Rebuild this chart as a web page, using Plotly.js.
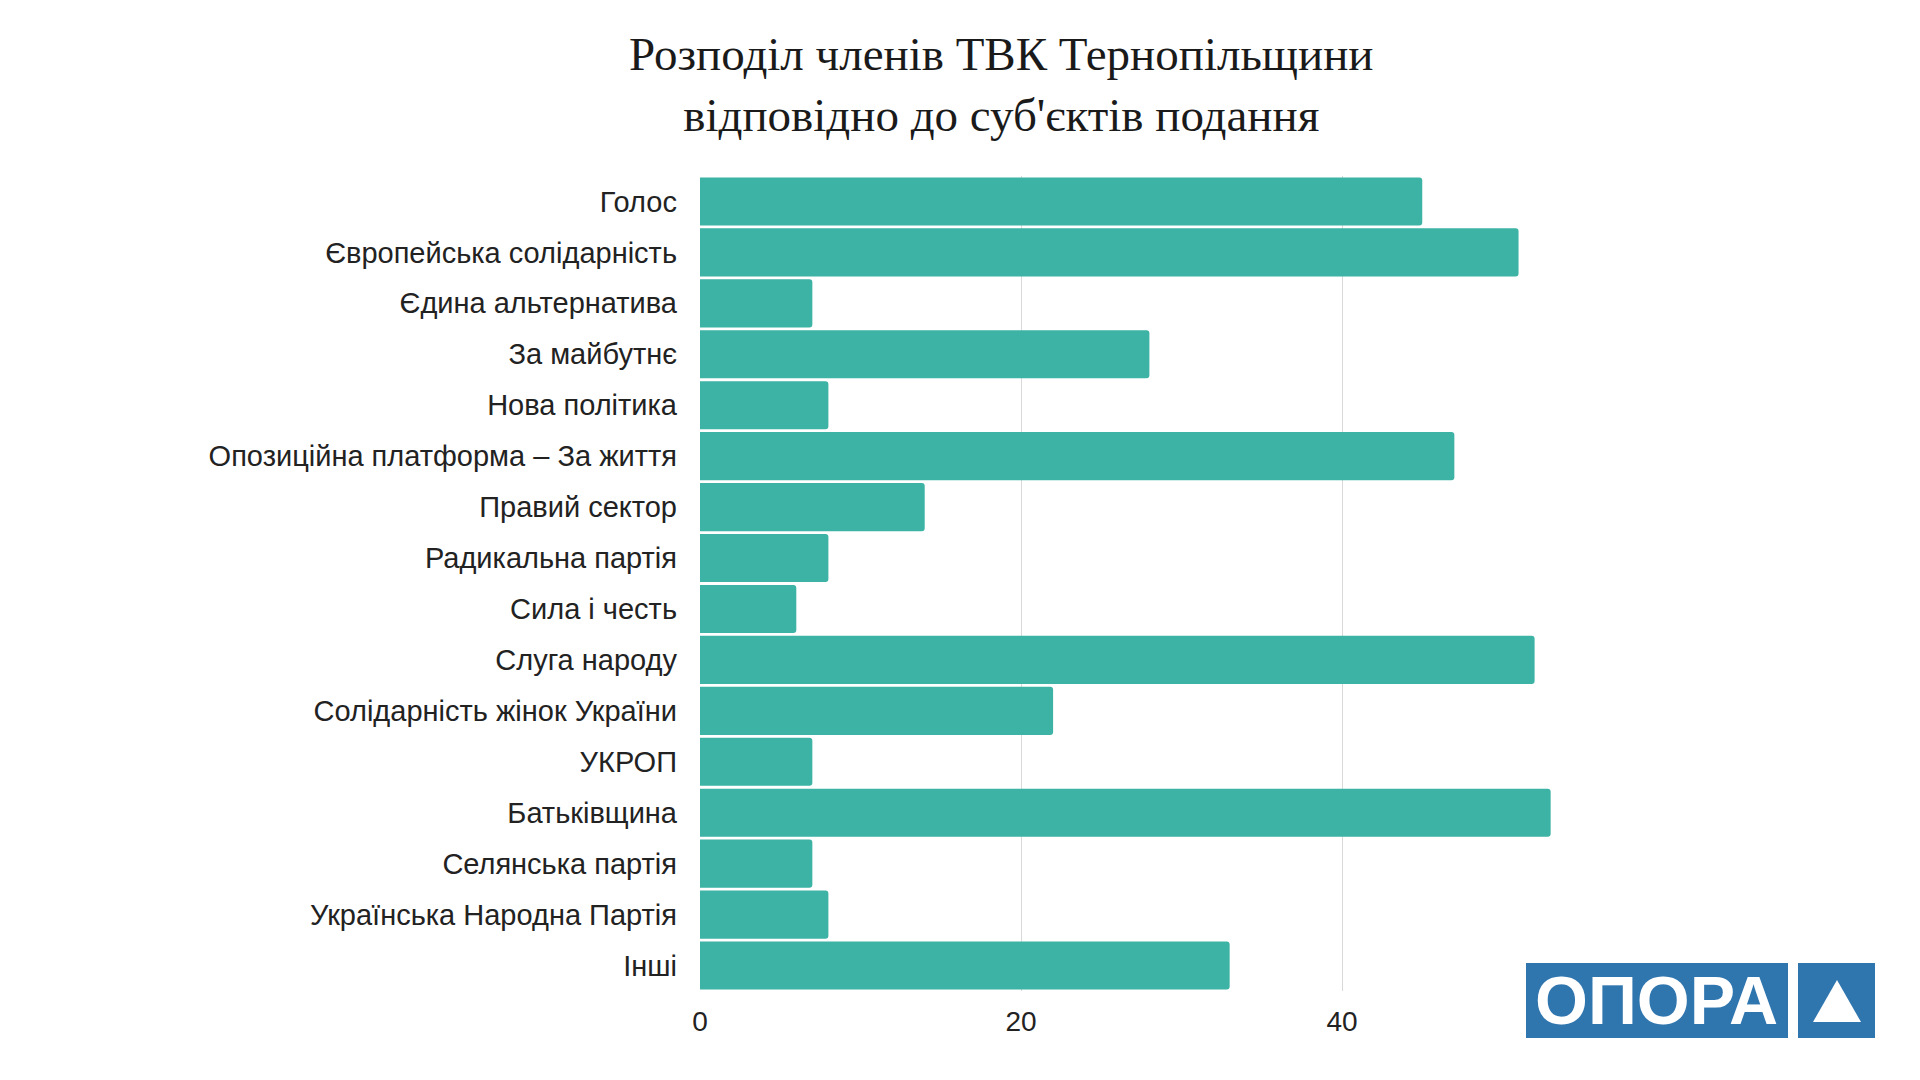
<!DOCTYPE html>
<html>
<head>
<meta charset="utf-8">
<script src="https://cdn.plot.ly/plotly-3.0.1.min.js"></script>
<style>
  html, body { margin: 0; padding: 0; background: #ffffff; }
  #chart { width: 1920px; height: 1080px; }
</style>
</head>
<body>
<div id="chart"></div>
<script>
const parties = [
  'Голос',
  'Європейська солідарність',
  'Єдина альтернатива',
  'За майбутнє',
  'Нова політика',
  'Опозиційна платформа – За життя',
  'Правий сектор',
  'Радикальна партія',
  'Сила і честь',
  'Слуга народу',
  'Солідарність жінок України',
  'УКРОП',
  'Батьківщина',
  'Селянська партія',
  'Українська Народна Партія',
  'Інші',
];

const members = [45, 51, 7, 28, 8, 47, 14, 8, 6, 52, 22, 7, 53, 7, 8, 33];

const xTickVals = [0, 20, 40, 60];
const xTickText = ['0', '20', '40', ''];

const titleLines = [
  'Розподіл членів ТВК Тернопільщини',
  'відповідно до суб\'єктів подання',
];

const logoText = 'ОПОРА';

// plot box in page pixels
const W = 1920, H = 1080;
const M = { l: 700, r: 257, t: 176, b: 89 };
const plotW = W - M.l - M.r;
const plotH = H - M.t - M.b;
const px = x => (x - M.l) / plotW;
const py = y => (H - M.b - y) / plotH;

const BAR_COLOR = '#3cb3a4';
const LOGO_BLUE = '#2f75ae';

const trace = {
  type: 'bar',
  orientation: 'h',
  y: parties,
  x: members,
  marker: { color: BAR_COLOR, line: { width: 0 }, cornerradius: 3 },
  hoverinfo: 'x+y',
};

const logoShapes = [
  {
    type: 'rect', xref: 'paper', yref: 'paper', layer: 'above',
    x0: px(1526), x1: px(1788), y0: py(1038), y1: py(963),
    fillcolor: LOGO_BLUE, line: { width: 0 },
  },
  {
    type: 'rect', xref: 'paper', yref: 'paper', layer: 'above',
    x0: px(1798), x1: px(1875), y0: py(1038), y1: py(963),
    fillcolor: LOGO_BLUE, line: { width: 0 },
  },
  {
    type: 'path', xref: 'paper', yref: 'paper', layer: 'above',
    path: `M ${px(1813)} ${py(1022)} L ${px(1837)} ${py(980)} L ${px(1861)} ${py(1022)} Z`,
    fillcolor: '#ffffff', line: { width: 0 },
  },
];

const layout = {
  width: W,
  height: H,
  paper_bgcolor: '#ffffff',
  plot_bgcolor: '#ffffff',
  margin: M,
  showlegend: false,
  bargap: 0.055,
  font: { family: "'Liberation Sans', Arial, sans-serif", color: '#222222', size: 29 },
  title: {
    text: titleLines.join('<br>'),
    font: { family: "'Liberation Serif', 'Times New Roman', serif", size: 47, color: '#1a1a1a' },
    x: 0.5215, xref: 'container', xanchor: 'center',
    y: 1 - 70 / H, yref: 'container', yanchor: 'top',
  },
  xaxis: {
    range: [0, 60],
    tickvals: xTickVals,
    ticktext: xTickText,
    showgrid: true,
    gridcolor: '#d9d9d9',
    gridwidth: 1,
    zeroline: false,
    showline: false,
    ticks: '',
    ticklabelstandoff: 11,
    tickfont: { size: 28, color: '#222222' },
    fixedrange: true,
  },
  yaxis: {
    type: 'category',
    categoryorder: 'array',
    categoryarray: parties,
    autorange: 'reversed',
    showgrid: false,
    zeroline: false,
    showline: false,
    ticks: '',
    ticklabelstandoff: 22,
    tickfont: { size: 29, color: '#222222' },
    fixedrange: true,
  },
  shapes: logoShapes,
  annotations: [
    {
      xref: 'paper', yref: 'paper',
      x: px(1656), y: py(1000),
      xanchor: 'center', yanchor: 'middle',
      text: '<b>' + logoText + '</b>',
      showarrow: false,
      font: { family: "'Liberation Sans', Arial, sans-serif", size: 68, color: '#ffffff' },
    },
  ],
};

Plotly.newPlot('chart', [trace], layout, { displayModeBar: false, staticPlot: true });
</script>
</body>
</html>
